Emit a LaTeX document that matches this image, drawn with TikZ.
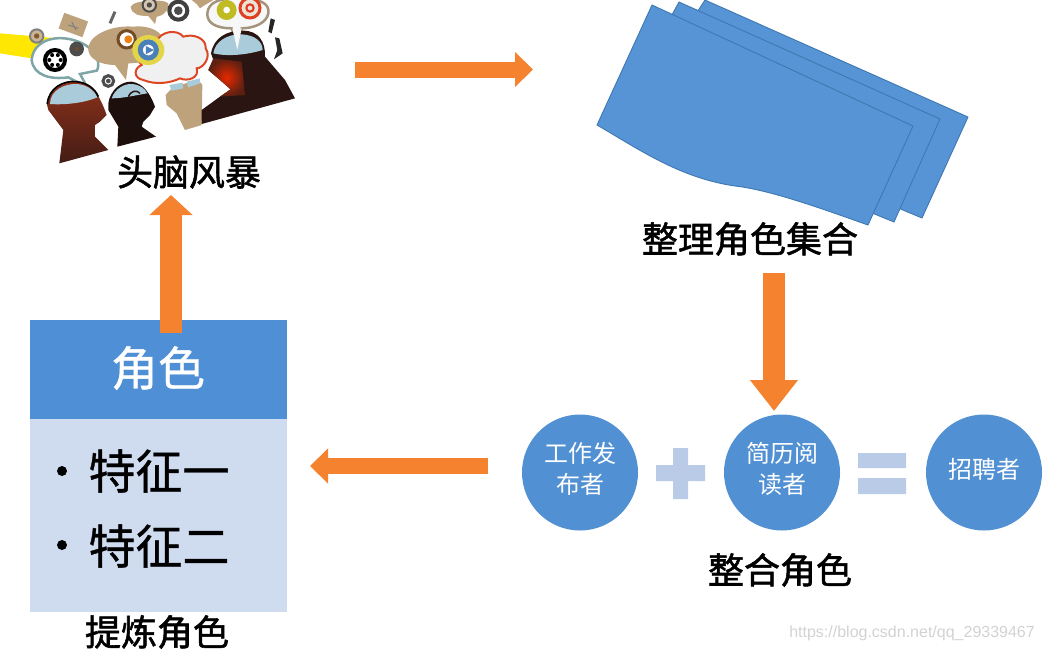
\documentclass[tikz,border=0pt]{standalone}
\usepackage{fontspec}
\usetikzlibrary{arrows.meta}
\newfontfamily\cjk[AutoFakeBold=1.5]{Noto Sans CJK SC}
\newfontfamily\cjkbig[AutoFakeBold=0.8]{Noto Sans CJK SC}
\setmainfont{Liberation Sans}
\definecolor{sheet}{HTML}{5694D6}
\definecolor{sheetedge}{HTML}{3F78B0}
\definecolor{headblue}{HTML}{4F8FD6}
\definecolor{bodyblue}{HTML}{CFDBEE}
\definecolor{circ}{HTML}{5190D3}
\definecolor{opsign}{HTML}{B9CBE7}
\definecolor{arrowor}{HTML}{F5822F}
\definecolor{capblue}{HTML}{A9CBDA}
\definecolor{tan}{HTML}{BDA27C}
\definecolor{redhead}{HTML}{A83A1F}
\definecolor{darkhead}{HTML}{2A1512}
\definecolor{iconblue}{HTML}{4A80B8}
\definecolor{softyellow}{HTML}{EDE23A}
\tikzset{
 x=1pt,y=-1pt,
 blockarrow/.style={draw=arrowor,line width=#1,-{Triangle[length=18pt,width=34pt]}},
 blockarrow/.default=16pt,
 title/.style={font=\cjk\bfseries\fontsize{36}{36}\selectfont,inner sep=0pt,text=black},
 bigtext/.style={font=\cjkbig\bfseries\fontsize{47}{47}\selectfont,inner sep=0pt},
 circtext/.style={font=\cjk\fontsize{24}{31}\selectfont,text=white,align=center,inner sep=0pt},
 rolecircle/.style={circle,fill=circ,minimum size=116pt,inner sep=0pt},
 paper/.style={fill=sheet,draw=sheetedge,line width=0.9pt,line join=round},
 headline/.style={draw=black,line width=1.2pt,line join=round},
 icon/.style={draw=#1,line width=2pt,fill=white},
}
\begin{document}
\begin{tikzpicture}
\useasboundingbox (0,0) rectangle (1044,651);
% ---------- brainstorm picture
\begin{scope}[scale=1/3]
 \fill[yellow!90!orange] (0,100) -- (175,115) -- (150,150) -- (95,175) -- (0,160) -- cycle;
 % teal bubble
 \draw[draw=teal!45!gray!70,line width=2.5pt,fill=white] (95,180) .. controls (100,120) and (170,100) .. (235,125) .. controls (300,150) and (300,200) .. (290,212) -- (240,222) -- (262,262) -- (205,232) .. controls (150,240) and (100,225) .. (95,180) -- cycle;
 % tan bubbles
 \fill[tan] (265,140) .. controls (275,100) and (340,75) .. (400,80) .. controls (450,75) and (490,95) .. (495,130) .. controls (495,165) and (440,190) .. (385,190) -- (378,240) -- (345,195) .. controls (300,195) and (260,175) .. (265,140) -- cycle;
 \fill[tan] (392,20) .. controls (400,0) and (490,-5) .. (505,10) .. controls (510,35) and (480,50) .. (470,50) -- (465,72) -- (445,48) .. controls (420,48) and (395,45) .. (392,20) -- cycle;
 \fill[tan] (575,0) -- (640,0) -- (610,18) -- (600,25) -- (590,12) -- cycle;
 \fill[tan,rotate around={-20:(220,75)}] (182,50) rectangle (258,100);
 \draw[gray,line width=1pt] (205,75) -- (235,85) (215,65) -- (228,90);
 % cloud
 \draw[draw=red!45!brown,line width=2pt,fill=gray!12]
  (430,240) .. controls (400,235) and (400,205) .. (425,195) .. controls (400,170) and (420,135) .. (470,125)
  .. controls (480,95) and (530,85) .. (550,110) .. controls (580,100) and (620,115) .. (617,145)
  .. controls (635,170) and (610,205) .. (590,205) .. controls (600,235) and (560,245) .. (540,235)
  .. controls (510,250) and (465,255) .. (430,240) -- cycle;
 % top right bubble
 \draw[draw=gray!40!tan,line width=2.5pt,fill=gray!6] (622,40) .. controls (625,5) and (660,-5) .. (715,-5) .. controls (780,-5) and (810,10) .. (805,40) .. controls (800,70) and (760,85) .. (725,85) -- (712,130) -- (695,85) .. controls (650,85) and (620,70) .. (622,40) -- cycle;
 % head 1
 \shade[top color=redhead!85!black,bottom color=darkhead!80!redhead] (140,310) .. controls (145,265) and (190,240) .. (230,245) .. controls (280,250) and (300,290) .. (320,345) -- (300,365) -- (285,375) -- (285,410) -- (325,450) -- (178,490) -- (190,390) -- (145,330) -- cycle;
 \fill[capblue] (150,312) .. controls (150,270) and (195,250) .. (232,252) .. controls (265,255) and (285,275) .. (292,292) .. controls (250,310) and (190,315) .. (150,312) -- cycle;
 \draw[headline,line width=1.6pt] (142,312) .. controls (145,265) and (190,240) .. (230,245) .. controls (260,248) and (285,265) .. (295,290);
 % head 2
 \fill[darkhead!70!black] (325,310) .. controls (330,270) and (365,243) .. (395,245) .. controls (430,250) and (450,280) .. (465,320) -- (450,345) -- (430,365) -- (425,380) -- (468,410) -- (352,440) -- (355,380) -- (325,330) -- cycle;
 \fill[capblue] (335,295) .. controls (345,265) and (375,250) .. (397,252) .. controls (420,255) and (435,265) .. (442,280) .. controls (410,285) and (370,295) .. (335,295) -- cycle;
 \draw[darkhead,line width=1.5pt] (385,290) .. controls (395,270) and (410,270) .. (420,280);
 % head 3
 \fill[tan] (497,285) -- (520,260) -- (595,240) -- (607,255) -- (605,375) -- (555,390) -- (530,340) -- (500,315) -- cycle;
 \fill[capblue] (508,255) -- (548,248) -- (550,265) -- (515,272) -- cycle (560,245) -- (600,235) -- (600,250) -- (565,262) -- cycle;
 % head 4
 \fill[darkhead] (633,160) .. controls (640,115) and (680,90) .. (730,92) .. controls (775,92) and (797,125) .. (795,170) -- (855,240) -- (885,295) -- (605,372) -- (605,330) -- (660,290) -- (692,268) -- (660,240) -- (625,210) -- (640,180) -- cycle;
 \shade[inner color=red!65!orange!90!black,outer color=redhead!55!black] (640,175) -- (725,185) -- (735,285) -- (660,290) -- (692,268) -- (660,240) -- (625,210) -- cycle;
 \fill[capblue] (640,160) .. controls (645,125) and (680,102) .. (725,103) .. controls (765,105) and (788,125) .. (788,150) .. controls (740,165) and (680,170) .. (640,160) -- cycle;
 \fill[gray!6] (697,85) -- (725,85) -- (712,150) -- cycle;
 % icons
 \draw[line width=4pt,fill=white] (165,180) circle (30);
 \foreach \a in {0,60,...,300} \fill (165,180) ++(\a:17) circle (6);
 \fill[black!70] (230,147) circle (22);
 \fill[brown!60!black] (230,147) circle (6);
 \draw[icon=black!70,line width=3pt] (325,243) circle (16);
 \fill[black!70] (325,243) circle (7);
 \draw[icon=gray,fill=tan!80] (110,108) circle (20);
 \fill[brown!70!black] (110,108) circle (8);
 \draw[icon=brown!60!black,line width=3pt] (380,118) circle (26);
 \fill[orange!70!brown] (385,118) circle (12);
 \fill[softyellow!80!tan] (445,150) ellipse (48 and 45);
 \draw[draw=iconblue,line width=5pt,fill=white] (445,150) circle (24);
 \fill[iconblue] (438,138) -- (462,150) -- (438,162) -- cycle;
 \draw[icon=black!75,line width=4pt] (535,32) circle (27);
 \fill[black!70] (535,32) circle (13);
 \draw[draw=black!70,line width=2pt,fill=tan!60] (448,15) circle (20);
 \fill[black!70] (448,15) circle (8);
 \fill[softyellow!60!olive] (680,30) circle (30);
 \fill[white] (680,30) circle (10);
 \draw[draw=red!50!brown,line width=3pt,fill=tan!30] (750,24) circle (30);
 \draw[red!60!brown,line width=2pt] (750,24) circle (11);
 \draw[black!60,line width=3pt] (345,35) -- (330,70);
 \fill[black!85] (812,55) -- (825,60) -- (815,100) -- (805,95) -- cycle;
 \fill[black!85] (825,112) -- (838,115) -- (848,160) -- (822,178) -- (832,150) -- cycle;
\end{scope}
\node[title] (brain) at (189,172) {头脑风暴};
% ---------- sheets
\path[paper] (705,0) -- (968,117) -- (922,218) -- (640,100) -- cycle;
\path[paper] (679,2) -- (940,119) -- (894,222) -- (620,110) -- cycle;
\path[paper] (652,5) -- (913,126) -- (868,225) .. controls (820,208) and (770,190) .. (735,186) .. controls (680,178) and (640,150) .. (597,125) -- cycle;
\node[title] (sort) at (750,239) {整理角色集合};
% ---------- role box
\node[fill=bodyblue,minimum width=257pt,minimum height=193pt,inner sep=0pt,anchor=north west] (rolebody) at (30,419) {};
\node[fill=headblue,minimum width=257pt,minimum height=99pt,inner sep=0pt,anchor=north west] (rolehead) at (30,320) {};
\node[bigtext,text=white] (roletitle) at (158,368) {角色};
\fill[black] (62,471) circle (5) (62,545) circle (5);
\node[bigtext,text=black] (trait1) at (159,471) {特征一};
\node[bigtext,text=black] (trait2) at (159,546) {特征二};
\node[title] (refine) at (157,632) {提炼角色};
% ---------- circles
\node[rolecircle] (c1) at (580,472.5) {};
\node[rolecircle] (c2) at (782,472.5) {};
\node[rolecircle] (c3) at (984,472.5) {};
\node[circtext] at (580,469) {工作发\\布者};
\node[circtext] at (782,469) {简历阅\\读者};
\node[circtext] at (984,469) {招聘者};
\fill[opsign] (656,465) rectangle (705,481) (673,448) rectangle (688,499);
\fill[opsign] (858,453) rectangle (906,468) (858,478) rectangle (906,494);
\node[title] (merge) at (780,570) {整合角色};
% ---------- arrows
\coordinate (a1s) at (355,69.5);
\coordinate (a1e) at (533,69.5);
\coordinate (a2s) at (774,273);
\coordinate (a2e) at (774,411);
\coordinate (a3s) at (488,466);
\coordinate (a3e) at (310,466);
\coordinate (a4s) at (171,333);
\coordinate (a4e) at (171,195);
\draw[blockarrow] (a1s) -- (a1e);
\draw[blockarrow=22pt,-{Triangle[length=31pt,width=46pt]}] (a2s) -- (a2e);
\draw[blockarrow] (a3s) -- (a3e);
\draw[blockarrow=22pt,-{Triangle[length=20pt,width=42pt]}] (a4s) -- (a4e);
% ---------- watermark
\node[font=\fontsize{16}{16}\selectfont,text=gray!35,inner sep=0pt,anchor=east] (wm) at (1035,633) {https://blog.csdn.net/qq\_29339467};
\end{tikzpicture}
\end{document}
